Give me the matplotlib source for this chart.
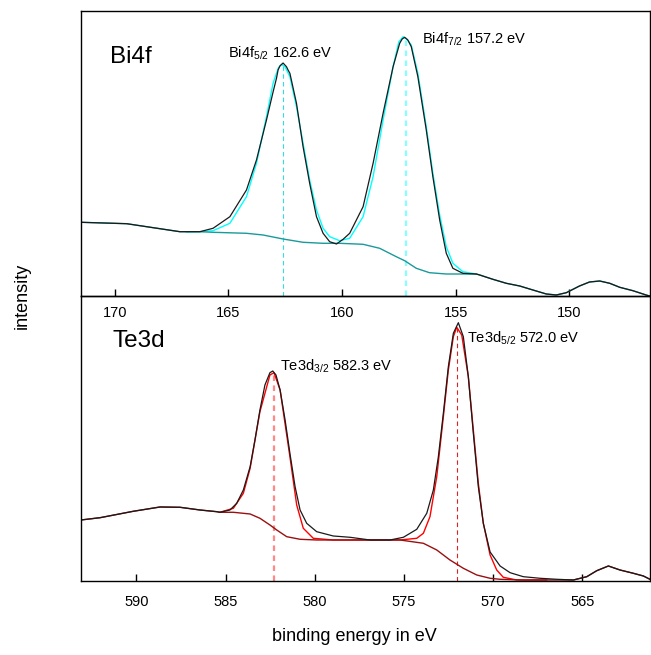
import numpy as np
import matplotlib
matplotlib.use("Agg")
import matplotlib.pyplot as plt

plt.rcParams['font.family'] = ['Liberation Sans', 'DejaVu Sans']
plt.rcParams['mathtext.fontset'] = 'custom'
plt.rcParams['mathtext.rm'] = 'Liberation Sans'
plt.rcParams['mathtext.it'] = 'Liberation Sans:italic'

# ---- Bi4f (intensidad en unidades arbitrarias) ----
bi_E = [171.48, 169.47, 168.30, 167.13, 166.25, 165.67, 164.93, 164.20, 163.76,
        163.32, 163.03, 162.88, 162.81, 162.73, 162.59, 162.44, 162.37, 162.29,
        162.00, 161.71, 161.42, 161.12, 160.83, 160.54, 160.24, 159.95, 159.66,
        159.07, 158.63, 158.19, 157.75, 157.46, 157.35, 157.24, 157.10, 156.95,
        156.66, 156.29, 156.00, 155.70, 155.41, 155.12, 154.68, 154.09, 153.94,
        153.36, 152.77, 152.18, 151.60, 151.01, 150.57, 150.13, 149.55, 149.11,
        148.66, 148.22, 147.78, 147.20, 146.62, 146.47]
bi_I = [73.7, 72.3, 68.3, 64.3, 64.3, 67.7, 79.3, 106.0, 136.0,
        176.0, 204.0, 217.7, 226.0, 230.0, 233.0, 229.3, 226.0, 222.7,
        192.7, 149.3, 112.7, 79.3, 62.7, 54.3, 52.0, 56.7, 62.7,
        89.3, 132.7, 182.7, 229.3, 252.7, 257.0, 258.7, 256.0, 249.3,
        219.3, 166.0, 119.3, 76.0, 42.7, 27.7, 22.7, 22.0, 21.0,
        16.7, 12.7, 10.0, 6.0, 2.0, 1.0, 3.3, 10.0, 14.0,
        15.0, 12.7, 8.7, 5.3, 1.0, 0.0]

bi_fit_E = [166.84, 166.25, 165.67, 164.93, 164.20, 163.76, 163.32, 163.03, 162.80,
            162.66, 162.50, 162.29, 162.00, 161.71, 161.42, 161.12, 160.83, 160.54,
            160.10, 159.66, 159.07, 158.63, 158.19, 157.75, 157.50, 157.31, 157.15,
            156.95, 156.66, 156.29, 156.00, 155.70, 155.41, 155.12, 154.68, 154.09]
bi_fit_I = [64.0, 64.3, 65.3, 72.7, 99.3, 132.7, 179.3, 212.7, 228.0,
            231.7, 229.0, 219.3, 189.3, 152.7, 116.0, 86.0, 67.7, 59.3,
            55.3, 57.7, 79.3, 119.3, 176.0, 229.3, 254.0, 259.3, 257.0,
            251.0, 222.7, 169.3, 122.7, 81.0, 49.3, 32.7, 24.3, 22.0]

bi_bg_E = [171.48, 169.47, 168.30, 167.13, 166.25, 165.67, 164.20, 163.47, 162.59,
           161.71, 160.83, 160.10, 159.07, 158.34, 157.61, 157.24, 156.73, 156.15,
           155.41, 154.09, 153.94, 153.36, 152.77, 152.18, 151.60, 151.01, 150.57,
           150.13, 149.55, 149.11, 148.66, 148.22, 147.78, 147.20, 146.62, 146.47]
bi_bg_I = [73.7, 72.3, 68.3, 64.3, 64.3, 63.7, 62.7, 61.0, 57.0,
           53.7, 52.7, 52.7, 51.7, 47.7, 39.3, 35.3, 27.7, 23.3,
           22.0, 22.0, 21.0, 16.7, 12.7, 10.0, 6.0, 2.0, 1.0,
           3.3, 10.0, 14.0, 15.0, 12.7, 8.7, 5.3, 1.0, 0.0]

bi_pk = [162.6, 157.2]
bi_pk_h = [233.0, 258.7]
bi_lab = [r'Bi4f$_{\mathrm{5/2}}$ 162.6 eV', r'Bi4f$_{\mathrm{7/2}}$ 157.2 eV']

# ---- Te3d ----
te_E = [593.10, 592.03, 590.17, 588.67, 587.55, 586.43, 585.49, 585.31, 584.75,
        584.37, 584.00, 583.62, 583.35, 583.07, 582.79, 582.51, 582.35, 582.17,
        581.94, 581.66, 581.39, 581.10, 580.82, 580.45, 579.89, 578.96, 578.02,
        576.90, 575.78, 575.03, 574.28, 573.72, 573.35, 573.07, 572.79, 572.51,
        572.23, 571.95, 571.67, 571.39, 571.11, 570.83, 570.55, 570.17, 569.61,
        569.05, 568.31, 567.37, 566.43, 565.50, 564.75, 564.19, 563.54, 562.89,
        562.14, 561.58, 561.21]
te_I = [61.0, 63.3, 69.7, 74.0, 73.7, 71.0, 69.3, 68.7, 71.0,
        77.7, 91.0, 114.3, 141.0, 171.0, 196.0, 208.3, 210.0, 206.0,
        191.0, 161.0, 127.7, 94.3, 71.0, 57.7, 49.3, 45.0, 43.7,
        41.0, 41.0, 43.7, 51.7, 67.7, 91.0, 124.3, 167.7, 214.3,
        247.7, 258.3, 244.3, 204.3, 147.7, 94.3, 57.7, 29.0, 15.0,
        8.3, 4.3, 2.7, 1.7, 1.0, 4.3, 10.3, 15.0, 11.0,
        7.7, 5.0, 1.7]

te_fit_E = [585.31, 584.56, 584.00, 583.62, 583.07, 582.51, 582.28, 581.94, 581.39,
            581.01, 580.64, 580.08, 578.96, 578.02, 575.22, 574.28, 573.91, 573.54,
            573.16, 572.79, 572.51, 572.23, 572.04, 571.76, 571.39, 571.11, 570.83,
            570.55, 570.17, 569.80, 569.43, 568.68, 567.00]
te_fit_I = [68.7, 72.7, 87.7, 112.7, 169.3, 206.0, 208.3, 191.0, 124.3,
            76.0, 52.7, 42.7, 41.0, 41.0, 41.0, 42.7, 47.7, 64.3,
            104.3, 164.3, 211.0, 244.3, 253.7, 246.0, 204.3, 151.0, 97.7,
            57.7, 26.0, 11.0, 3.7, 1.0, 1.0]

te_bg_E = [593.10, 592.03, 590.17, 588.67, 587.55, 586.43, 585.49, 585.31, 584.56,
           583.62, 583.07, 582.51, 582.13, 581.57, 580.82, 579.89, 578.02, 575.22,
           573.91, 573.16, 572.42, 571.67, 570.92, 570.17, 569.61, 568.31, 567.37,
           566.43, 565.50, 564.75, 564.19, 563.54, 562.89, 562.14, 561.58, 561.21]
te_bg_I = [61.0, 63.3, 69.7, 74.0, 73.7, 71.0, 69.3, 68.7, 68.7,
           67.0, 62.7, 56.0, 51.0, 44.3, 41.7, 41.0, 41.0, 41.0,
           37.7, 31.0, 21.0, 12.7, 6.0, 2.7, 1.7, 1.0, 1.0,
           1.0, 1.0, 4.3, 10.3, 15.0, 11.0, 7.7, 5.0, 1.7]

te_pk = [582.3, 572.0]
te_pk_h = [210.0, 256.0]
te_lab = [r'Te3d$_{\mathrm{3/2}}$ 582.3 eV', r'Te3d$_{\mathrm{5/2}}$ 572.0 eV']

top_ticks = [170, 165, 160, 155, 150]
bot_ticks = [590, 585, 580, 575, 570, 565]

fig = plt.figure(figsize=(6.51, 6.55), dpi=100)
ax1 = fig.add_axes([0.1244, 0.5481, 0.8740, 0.4351])
ax2 = fig.add_axes([0.1244, 0.1130, 0.8740, 0.4351])
ax2.patch.set_visible(False)  # para que se vean las etiquetas del panel de arriba

# Bi4f
ax1.vlines(bi_pk[0], 0, bi_pk_h[0], colors='#33dddd', linestyles=(0, (4, 3)), lw=0.8)
ax1.vlines(bi_pk[1], 0, bi_pk_h[1], colors='#88ffff', linestyles=(0, (2.5, 2)), lw=1.6)
ax1.plot(bi_fit_E, bi_fit_I, color='#00ffff', lw=1.0)
ax1.plot(bi_bg_E, bi_bg_I, color='#1a9a9a', lw=1.0)
ax1.plot(bi_E, bi_I, color='#1a1a1a', lw=0.9)
ax1.text(165.01, 238.7, bi_lab[0], fontsize=10.5)
ax1.text(156.46, 252.7, bi_lab[1], fontsize=10.5)
ax1.text(0.051, 0.819, 'Bi4f', transform=ax1.transAxes, fontsize=17.5)
ax1.set_xlim(171.48, 146.45)
ax1.set_ylim(0, 285)
ax1.set_xticks(top_ticks)
ax1.set_yticks([])
ax1.tick_params(axis='x', direction='in', length=5, width=1, pad=7, labelsize=10.5)

# Te3d
ax2.vlines(te_pk[0], 0, te_pk_h[0], colors='#ff8888', linestyles=(0, (2.5, 2)), lw=1.6)
ax2.vlines(te_pk[1], 0, te_pk_h[1], colors='#dd2222', linestyles=(0, (4, 3)), lw=0.8)
ax2.plot(te_fit_E, te_fit_I, color='#ff0000', lw=1.0)
ax2.plot(te_bg_E, te_bg_I, color='#9a1010', lw=1.0)
ax2.plot(te_E, te_I, color='#1a1a1a', lw=0.9)
ax2.text(581.95, 210.0, te_lab[0], fontsize=10.5)
ax2.text(571.45, 238.3, te_lab[1], fontsize=10.5)
ax2.text(0.0557, 0.82, 'Te3d', transform=ax2.transAxes, fontsize=17.5)
ax2.set_xlim(593.10, 561.21)
ax2.set_ylim(0, 285)
ax2.set_xticks(bot_ticks)
ax2.set_yticks([])
ax2.tick_params(axis='x', direction='in', length=5, width=1, pad=10, labelsize=10.5)

for ax in (ax1, ax2):
    for s in ax.spines.values():
        s.set_linewidth(1.0)

fig.text(0.034, 0.548, 'intensity', rotation=90, ha='center', va='center', fontsize=13)
fig.text(0.545, 0.0275, 'binding energy in eV', ha='center', va='center', fontsize=13)

fig.savefig('out.png', dpi=100)
